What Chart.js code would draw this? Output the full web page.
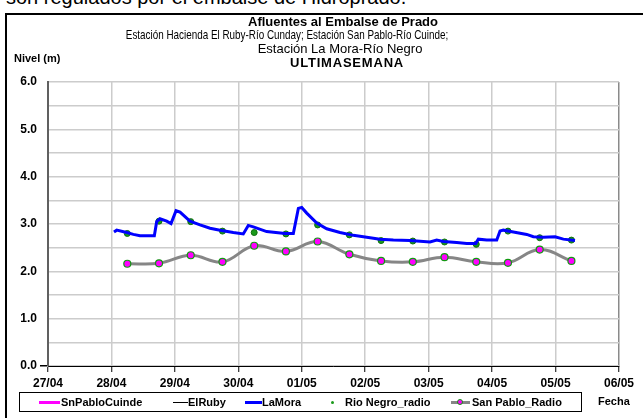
<!DOCTYPE html>
<html><head><meta charset="utf-8">
<script src="https://cdn.jsdelivr.net/npm/chart.js@4"></script>
<style>
html,body{margin:0;padding:0;background:#fff;width:643px;height:418px;overflow:hidden;font-family:"Liberation Sans",Arial,sans-serif;}
#wrap{position:relative;width:643px;height:418px;}
canvas{position:absolute;left:0;top:0;}
.t{position:absolute;white-space:nowrap;color:#000;line-height:1;}
#frame{position:absolute;left:5px;top:13px;width:700px;height:500px;border-left:2px solid #000;border-top:2px solid #000;}
#legend{position:absolute;left:19px;top:392px;width:563px;height:20px;border:1px solid #000;box-sizing:border-box;}
.sw{position:absolute;}
.lt{position:absolute;top:0;height:18px;font-weight:bold;font-size:11px;line-height:18px;white-space:nowrap;}
</style></head>
<body><div id="wrap">
<div class="t" id="cut" style="left:6px;top:-13px;font-size:20px;">son regulados por el embalse de Hidroprado.</div>
<div id="frame"></div>
<canvas id="c" width="643" height="418"></canvas>
<div class="t" style="left:343px;top:15px;transform:translateX(-50%);font-weight:bold;font-size:13px;">Afluentes al Embalse de Prado</div>
<div class="t" style="left:287px;top:28px;transform:translateX(-50%) scaleX(0.76);font-size:13px;">Estación Hacienda El Ruby-Río Cunday; Estación San Pablo-Río Cuinde;</div>
<div class="t" style="left:340px;top:42px;transform:translateX(-50%);font-size:13px;">Estación La Mora-Río Negro</div>
<div class="t" style="left:347px;top:56px;transform:translateX(-50%);font-weight:bold;font-size:13px;letter-spacing:0.8px;">ULTIMASEMANA</div>
<div class="t" style="left:14px;top:53px;font-weight:bold;font-size:11px;">Nivel (m)</div>
<div class="t" style="left:598px;top:396px;font-weight:bold;font-size:11px;">Fecha</div>
<div id="legend"></div>
</div>
<script>
// ---- data ----
const xTickLabels = ['27/04','28/04','29/04','30/04','01/05','02/05','03/05','04/05','05/05','06/05'];
const seriesNames = ['SnPabloCuinde','ElRuby','LaMora','Rio Negro_radio','San Pablo_Radio'];
// LaMora: time in days after 27/04 00:00, level in m
const laMoraDays = [1.040,1.083,1.241,1.345,1.450,1.676,1.713,1.765,1.871,1.939,2.018,2.081,2.238,2.396,2.554,2.711,2.921,3.078,3.157,3.236,3.447,3.736,3.867,3.946,3.999,4.078,4.236,4.393,4.603,4.812,5.024,5.233,5.443,5.706,6.021,6.127,6.231,6.442,6.600,6.742,6.783,6.915,7.073,7.125,7.177,7.335,7.546,7.650,7.807,7.992,8.123,8.307];
const laMoraLevels = [2.83,2.87,2.82,2.78,2.75,2.75,3.05,3.11,3.06,3.01,3.28,3.25,3.06,2.98,2.91,2.87,2.82,2.79,2.97,2.94,2.84,2.80,2.80,3.33,3.35,3.23,3.02,2.90,2.82,2.76,2.72,2.68,2.66,2.65,2.62,2.66,2.63,2.61,2.59,2.59,2.68,2.66,2.66,2.85,2.87,2.83,2.78,2.73,2.72,2.73,2.68,2.65];
// radio readings every 12 h
const radioDays = [1.25,1.75,2.25,2.75,3.25,3.75,4.25,4.75,5.25,5.75,6.25,6.75,7.25,7.75,8.25];
const rioNegroRadio = [2.80,3.06,3.05,2.85,2.82,2.79,2.98,2.77,2.65,2.64,2.62,2.57,2.85,2.71,2.66];
const sanPabloRadio = [2.16,2.17,2.34,2.20,2.54,2.42,2.63,2.36,2.22,2.20,2.30,2.20,2.18,2.46,2.22];
const snPabloCuinde = [];
const elRuby = [];

const pts = (xs, ys) => xs.map((x, i) => ({x, y: ys[i]}));
const FONT = '"Liberation Sans", Arial, sans-serif';

new Chart(document.getElementById('c'), {
  type: 'line',
  data: {
    datasets: [
      {label: seriesNames[0], data: pts([], snPabloCuinde), borderColor: '#ff00ff', borderWidth: 3, pointRadius: 0},
      {label: seriesNames[1], data: pts([], elRuby), borderColor: '#000000', borderWidth: 1, pointRadius: 0},
      {label: seriesNames[4], data: pts(radioDays, sanPabloRadio), borderColor: '#868686', borderWidth: 3, tension: 0.4,
        pointRadius: 3.5, pointBackgroundColor: '#ff00ff', pointBorderColor: '#119911', pointBorderWidth: 1.2},
      {label: seriesNames[2], data: pts(laMoraDays, laMoraLevels), borderColor: '#0000ff', borderWidth: 3, pointRadius: 0, tension: 0},
      {label: seriesNames[3], data: pts(radioDays, rioNegroRadio), showLine: false, pointRadius: 3,
        pointBackgroundColor: '#1a9a1a', pointBorderColor: '#0d6d0d', pointBorderWidth: 1}
    ]
  },
  options: {
    responsive: false,
    animation: false,
    layout: {padding: {top: 82, right: 24, left: 0, bottom: 0}},
    plugins: {legend: {display: false}, title: {display: false}, tooltip: {enabled: false}},
    scales: {
      x: {
        type: 'linear', min: 0, max: 9,
        afterFit: s => { s.height = 52; },
        ticks: {stepSize: 1, autoSkip: false, maxRotation: 0, padding: 4, color: '#000',
          font: {family: FONT, size: 12, weight: 'bold'},
          callback: v => xTickLabels[v] ?? ''},
        grid: {color: c => (c.tick && c.tick.value === 9) ? '#8a8a8a' : '#cccccc', lineWidth: 1.5,
          drawTicks: true, tickLength: 6, tickColor: '#000', tickWidth: 1},
        border: {color: '#000', width: 1}
      },
      y: {
        min: 0, max: 6,
        afterFit: s => { s.width = 48; },
        ticks: {stepSize: 0.5, autoSkip: false, padding: 3, color: '#000',
          font: {family: FONT, size: 12, weight: 'bold'},
          callback: v => (Math.abs(v % 1) < 1e-9) ? v.toFixed(1) : ''},
        grid: {color: '#cccccc', lineWidth: 1.5, drawTicks: true, tickLength: 8,
          tickColor: c => (c.tick && c.tick.value === 0) ? '#000' : 'rgba(0,0,0,0)'},
        border: {color: '#606060', width: 2}
      }
    }
  }
});

// ---- legend (HTML), positions relative to legend inner box ----
const lg = document.getElementById('legend');
const items = [
  {name: seriesNames[0], tx: 41, sw: '<div class="sw" style="left:19px;top:8px;width:21px;height:3px;background:#ff00ff"></div>'},
  {name: seriesNames[1], tx: 168, sw: '<div class="sw" style="left:153px;top:9px;width:15px;height:1px;background:#000"></div>'},
  {name: seriesNames[2], tx: 242, sw: '<div class="sw" style="left:225px;top:8px;width:17px;height:3px;background:#0000ff"></div>'},
  {name: seriesNames[3], tx: 325, sw: '<div class="sw" style="left:311px;top:8px;width:3px;height:3px;border-radius:50%;background:#1a9a1a"></div>'},
  {name: seriesNames[4], tx: 452, sw: '<div class="sw" style="left:431px;top:8px;width:19px;height:3px;background:#868686"></div><div class="sw" style="left:437px;top:6px;width:4px;height:4px;border-radius:50%;background:#ff00ff;border:1px solid #119911;"></div>'}
];
items.forEach(it => {
  lg.insertAdjacentHTML('beforeend', it.sw + '<span class="lt" style="left:' + it.tx + 'px">' + it.name + '</span>');
});
</script>
</body></html>
